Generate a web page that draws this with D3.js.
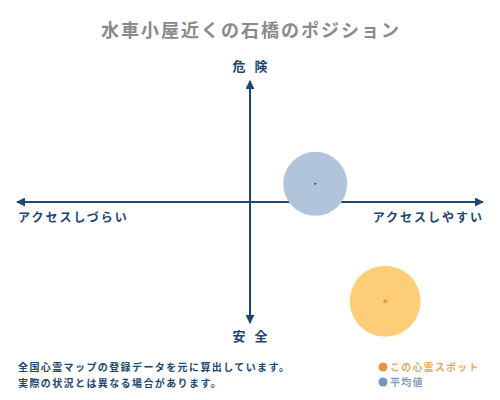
<!doctype html>
<html lang="ja">
<head>
<meta charset="utf-8">
<title>水車小屋近くの石橋のポジション</title>
<script src="https://cdn.jsdelivr.net/npm/d3@7"></script>
<style>
	body { margin: 0; background: #fff; }
	text { font-family: "Noto Sans CJK JP", sans-serif; }
</style>
</head>
<body>
<div id="chart"></div>
<script>
	// chart data
	var title = "水車小屋近くの石橋のポジション";
	var axisLabels = ["危 険", "安 全", "アクセスしづらい", "アクセスしやすい"];
	var seriesNames = ["この心霊スポット", "平均値"];
	var xValues = [0.58, 0.28];     // access: -1 hard .. +1 easy
	var yValues = [-0.82, 0.15];    // danger: -1 safe .. +1 danger
	var sizes = [35.5, 32];
	var notes = ["全国心霊マップの登録データを元に算出しています。", "実際の状況とは異なる場合があります。"];

	var widthSvg = 500, heightSvg = 400;
	var navy = "#1d4671";
	var fills = ["#fdcd78", "#b0c4da"];
	var dots = ["#f0a020", "#1d3a5a"];
	var legendColors = ["#e8943a", "#6f97c0"];
	var legendText = ["#e8a860", "#7f9fc0"];

	var svg = d3.select("#chart").append("svg")
		.attr("width", widthSvg).attr("height", heightSvg);

	var xScale = d3.scaleLinear().domain([-1, 1]).range([17, 483]);
	var yScale = d3.scaleLinear().domain([-1, 1]).range([323, 81]);

	svg.append("text")
		.attr("x", 251).attr("y", 37)
		.attr("text-anchor", "middle")
		.attr("font-size", 18).attr("font-weight", "bold")
		.attr("letter-spacing", 2)
		.attr("fill", "#8a8a8a")
		.text(title);

	var defs = svg.append("defs");
	defs.append("marker")
		.attr("id", "arr")
		.attr("viewBox", "0 0 10 10")
		.attr("refX", 9).attr("refY", 5)
		.attr("markerWidth", 4.5).attr("markerHeight", 4.5)
		.attr("orient", "auto-start-reverse")
		.append("path").attr("d", "M0,0L10,5L0,10z").attr("fill", navy);

	// axes
	svg.append("line")
		.attr("x1", xScale(-1)).attr("x2", xScale(1))
		.attr("y1", yScale(0)).attr("y2", yScale(0))
		.attr("stroke", navy).attr("stroke-width", 2)
		.attr("marker-start", "url(#arr)").attr("marker-end", "url(#arr)");
	svg.append("line")
		.attr("x1", xScale(0)).attr("x2", xScale(0))
		.attr("y1", yScale(1)).attr("y2", yScale(-1))
		.attr("stroke", navy).attr("stroke-width", 2)
		.attr("marker-start", "url(#arr)").attr("marker-end", "url(#arr)");

	var lab = svg.append("g").attr("fill", navy).attr("font-weight", "bold").attr("font-size", 12);
	lab.append("text").attr("x", xScale(0) + 1.5).attr("y", 71).attr("text-anchor", "middle")
		.attr("font-size", 13).attr("letter-spacing", 3).text(axisLabels[0]);
	lab.append("text").attr("x", xScale(0) + 1.5).attr("y", 341).attr("text-anchor", "middle")
		.attr("font-size", 13).attr("letter-spacing", 3).text(axisLabels[1]);
	lab.append("text").attr("x", 18).attr("y", 222).attr("letter-spacing", 2).text(axisLabels[2]);
	lab.append("text").attr("x", 484).attr("y", 222).attr("text-anchor", "end").attr("letter-spacing", 2).text(axisLabels[3]);

	// bubbles, average drawn last
	var idx = [0, 1];
	svg.selectAll(".bub").data(idx).enter().append("circle")
		.attr("class", "bub")
		.attr("cx", function(i) { return xScale(xValues[i]); })
		.attr("cy", function(i) { return yScale(yValues[i]); })
		.attr("r", function(i) { return sizes[i]; })
		.attr("fill", function(i) { return fills[i]; });
	svg.selectAll(".dot").data(idx).enter().append("circle")
		.attr("class", "dot")
		.attr("cx", function(i) { return xScale(xValues[i]); })
		.attr("cy", function(i) { return yScale(yValues[i]); })
		.attr("r", function(i) { return i == 0 ? 2 : 1; })
		.attr("fill", function(i) { return dots[i]; });

	// notes
	svg.selectAll(".note").data(notes).enter().append("text")
		.attr("class", "note")
		.attr("x", 18).attr("y", function(d, i) { return 371 + i * 16; })
		.attr("font-size", 10).attr("font-weight", "bold")
		.attr("letter-spacing", 1.4)
		.attr("fill", navy)
		.text(function(d) { return d; });

	// legend
	var leg = svg.selectAll(".leg").data(seriesNames).enter().append("g")
		.attr("class", "leg")
		.attr("transform", function(d, i) { return "translate(383," + (367 + i * 15) + ")"; });
	leg.append("circle").attr("r", 4.5).attr("fill", function(d, i) { return legendColors[i]; });
	leg.append("text").attr("x", 7).attr("y", 4)
		.attr("font-size", 10).attr("font-weight", "bold")
		.attr("letter-spacing", 1.2)
		.attr("fill", function(d, i) { return legendText[i]; })
		.text(function(d) { return d; });
</script>
</body>
</html>
